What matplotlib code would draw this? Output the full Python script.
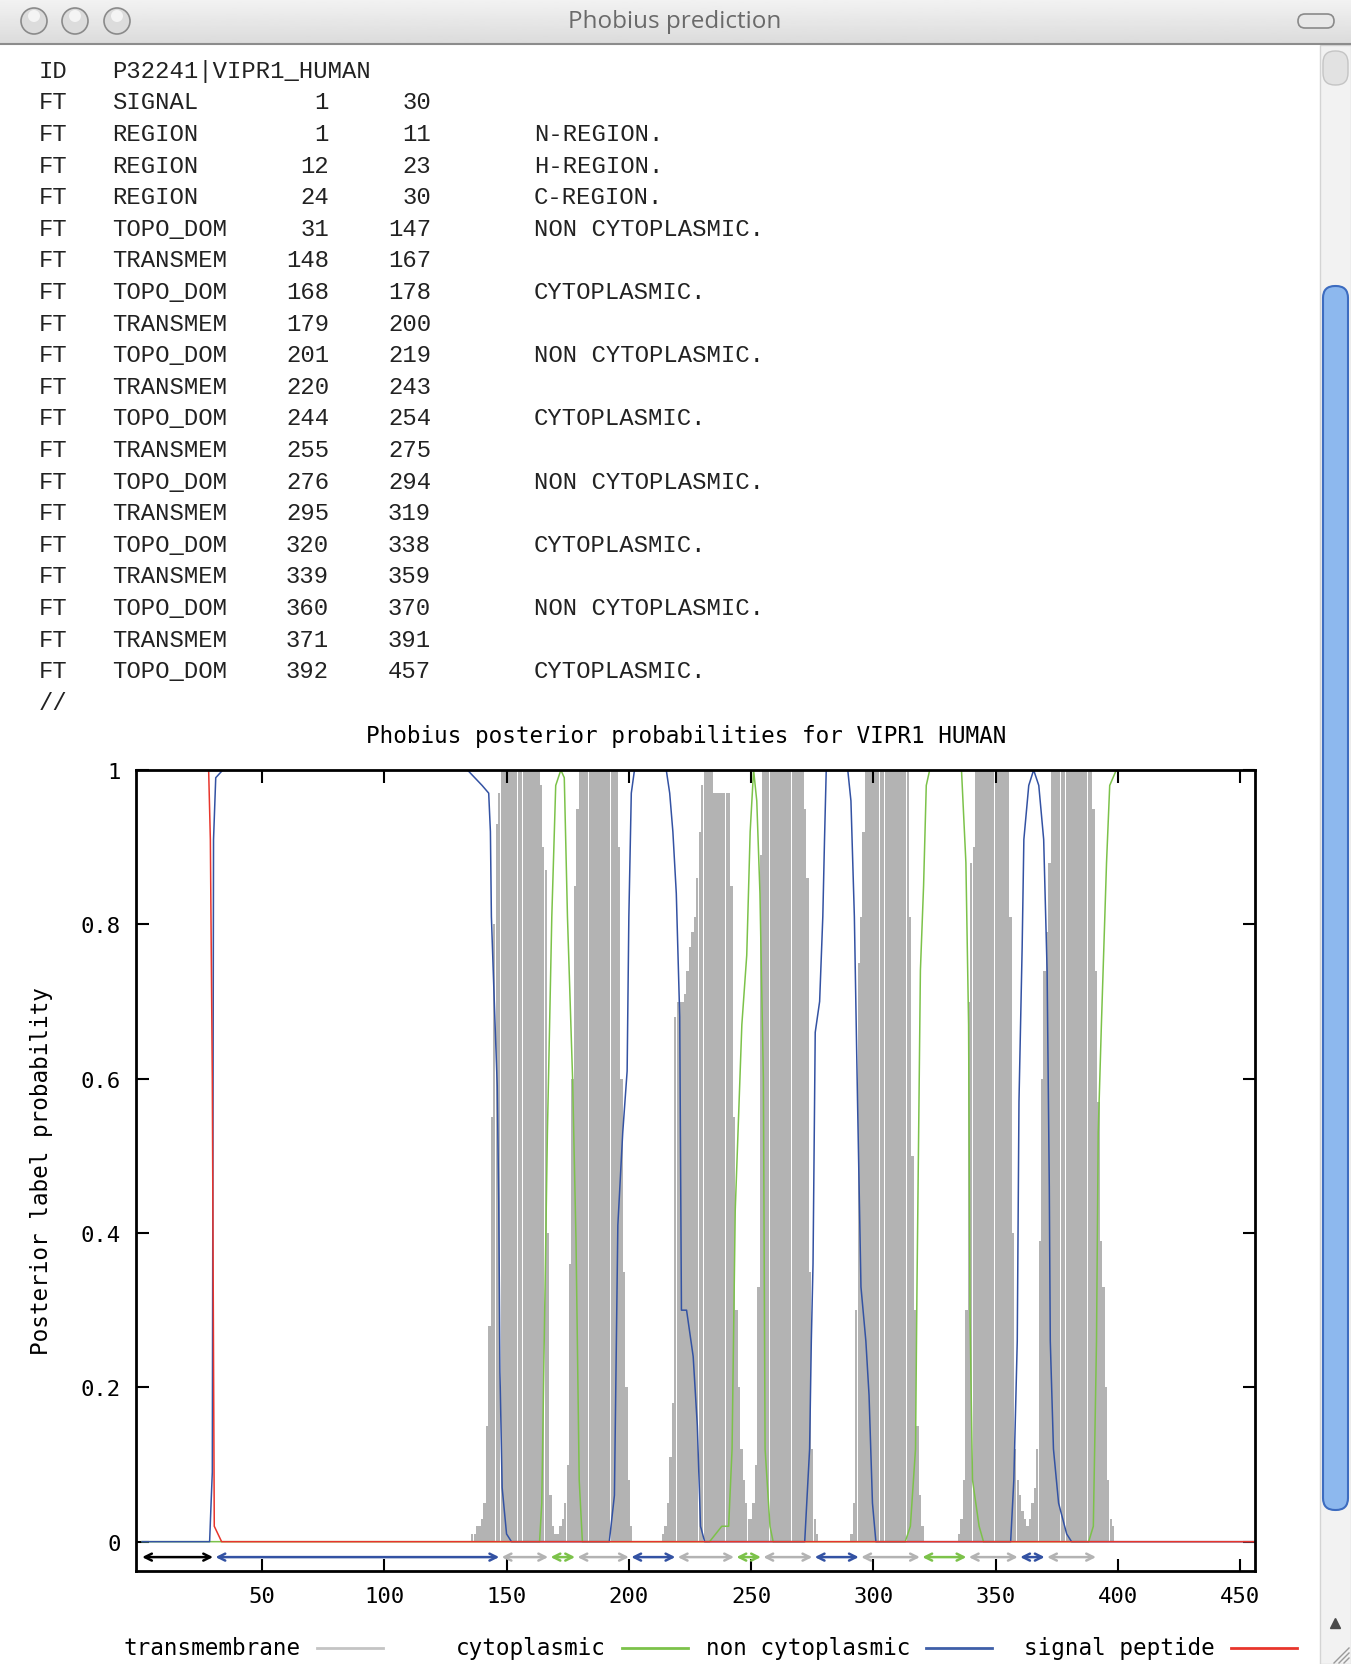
import numpy as np
import matplotlib.pyplot as plt
from matplotlib.patches import Rectangle, FancyBboxPatch, Circle

# ---- Phobius feature table ----
protein_id = "P32241|VIPR1_HUMAN"
ft_keys = ["SIGNAL", "REGION", "REGION", "REGION", "TOPO_DOM", "TRANSMEM",
           "TOPO_DOM", "TRANSMEM", "TOPO_DOM", "TRANSMEM", "TOPO_DOM",
           "TRANSMEM", "TOPO_DOM", "TRANSMEM", "TOPO_DOM", "TRANSMEM",
           "TOPO_DOM", "TRANSMEM", "TOPO_DOM"]
ft_start = [1, 1, 12, 24, 31, 148, 168, 179, 201, 220, 244, 255, 276, 295,
            320, 339, 360, 371, 392]
ft_end = [30, 11, 23, 30, 147, 167, 178, 200, 219, 243, 254, 275, 294, 319,
          338, 359, 370, 391, 457]
ft_desc = ["", "N-REGION.", "H-REGION.", "C-REGION.", "NON CYTOPLASMIC.", "",
           "CYTOPLASMIC.", "", "NON CYTOPLASMIC.", "", "CYTOPLASMIC.", "",
           "NON CYTOPLASMIC.", "", "CYTOPLASMIC.", "", "NON CYTOPLASMIC.", "",
           "CYTOPLASMIC."]
seq_len = 457

# ---- posterior probabilities ----
# transmembrane: (first residue, per-residue values), zero elsewhere
tm_blocks = [
    (136, [0.01, 0.01, 0.02, 0.02, 0.03, 0.05, 0.15, 0.28, 0.55, 0.80, 0.93, 0.97]
          + [1.0] * 16 + [0.98, 0.90, 0.87, 0.40, 0.06, 0.02, 0.01]),
    (171, [0.01, 0.02, 0.03, 0.05, 0.10, 0.36, 0.60, 0.85, 0.95]
          + [1.0] * 16 + [0.90, 0.60, 0.35, 0.20, 0.08, 0.02]),
    (214, [0.01, 0.02, 0.05, 0.11, 0.18, 0.68, 0.70, 0.70, 0.70, 0.71, 0.74,
           0.77, 0.79, 0.81, 0.86, 0.92, 0.98] + [1.0] * 4 + [0.97] * 7
          + [0.85, 0.55, 0.30, 0.20, 0.12, 0.08, 0.05, 0.03, 0.03, 0.05, 0.10,
             0.33, 0.89] + [1.0] * 17 + [0.95, 0.86, 0.35, 0.12, 0.03, 0.01]),
    (291, [0.01, 0.05, 0.30, 0.75, 0.81, 0.92] + [1.0] * 18
          + [0.81, 0.50, 0.30, 0.15, 0.06, 0.02]),
    (335, [0.01, 0.03, 0.08, 0.30, 0.70, 0.88, 0.90] + [1.0] * 14
          + [0.81, 0.40, 0.12, 0.08, 0.06, 0.04, 0.03, 0.02, 0.03, 0.05, 0.07,
             0.12, 0.39, 0.60, 0.74, 0.79, 0.88] + [1.0] * 17
          + [0.95, 0.74, 0.57, 0.39, 0.33, 0.20, 0.08, 0.03, 0.02]),
]

cyto_x = [1, 163.5, 164.4, 166.7, 168.5, 170.1, 172.2, 173.6, 174.9, 177, 178.4,
          179.7, 181, 233, 238, 240.8, 242.2, 243.5, 246.2, 248.2, 249.6, 251,
          252.3, 253.6, 255, 255.7, 257.7, 259, 313, 315.1, 317.2, 317.8, 319.2,
          320.5, 321.6, 323, 336, 337.8, 338.9, 339.5, 340.5, 343.2, 345, 388,
          389.9, 391.2, 391.9, 393.2, 394.6, 395.3, 396.6, 399.3, 457]
cyto_y = [0, 0, 0.05, 0.53, 0.81, 0.98, 1.0, 0.99, 0.81, 0.60, 0.39,
          0.08, 0, 0, 0.02, 0.02, 0.12, 0.43, 0.67, 0.76, 0.92, 1.0,
          0.96, 0.84, 0.60, 0.12, 0.02, 0, 0, 0.02, 0.12, 0.33, 0.74,
          0.85, 0.98, 1.0, 1.0, 0.88, 0.67, 0.29, 0.08, 0.02, 0, 0,
          0.02, 0.26, 0.53, 0.67, 0.81, 0.88, 0.98, 1.0, 1.0]

noncyto_x = [1, 28.6, 29.2, 29.7, 30.2, 31.1, 34, 134, 140, 142.7, 143.4, 143.8,
             145.2, 146.2, 146.8, 147.3, 148.2, 150, 152, 192, 194.1, 195.5,
             197.5, 199.3, 200, 201, 202.3, 215.3, 216.7, 218, 219.4, 220.8,
             221.5, 223.6, 226.3, 228, 229.3, 231, 271.9, 273.9, 274.6, 275.3,
             276.2, 278, 279.3, 280, 280.7, 289.5, 290.8, 292.2, 293.5, 294.9,
             296.9, 298.2, 299.6, 301, 356.1, 357.4, 358.8, 359.5, 360.8, 361.5,
             363.5, 365.5, 367.6, 369.6, 371, 371.9, 372.3, 373.6, 375.7, 379,
             381, 457]
noncyto_y = [0, 0, 0.05, 0.09, 0.91, 0.99, 1.0, 1.0, 0.98, 0.97, 0.92, 0.81,
             0.68, 0.59, 0.44, 0.22, 0.07, 0.01, 0, 0, 0.06, 0.41,
             0.53, 0.61, 0.81, 0.97, 1.0, 1.0, 0.97, 0.92, 0.84, 0.68,
             0.30, 0.30, 0.24, 0.15, 0.02, 0, 0, 0.12, 0.26, 0.36,
             0.66, 0.70, 0.81, 0.91, 1.0, 1.0, 0.96, 0.81, 0.57, 0.33,
             0.26, 0.19, 0.05, 0, 0, 0.08, 0.26, 0.57, 0.77, 0.91,
             0.98, 1.0, 0.98, 0.91, 0.74, 0.46, 0.26, 0.12, 0.05, 0.01,
             0, 0]

signal_x = [1, 28.2, 28.9, 29.7, 30.5, 33.5, 457]
signal_y = [1.0, 1.0, 0.91, 0.60, 0.02, 0, 0]

legend_labels = ["transmembrane", "cytoplasmic", "non cytoplasmic", "signal peptide"]

C_TM = "#b3b3b3"
C_CYT = "#7cc24a"
C_NON = "#3352a3"
C_SIG = "#e8352c"
legend_colors = ["#c4c4c4", C_CYT, "#3f5fa8", C_SIG]

residues = np.arange(1, seq_len + 1)
tm_prob = np.zeros(seq_len)
for start, vals in tm_blocks:
    tm_prob[start - 1:start - 1 + len(vals)] = vals

W, H = 1351, 1665
fig = plt.figure(figsize=(W / 100, H / 100), dpi=100)
fig.patch.set_facecolor("white")

# ---- window chrome + text output, drawn in pixel coordinates ----
bg = fig.add_axes([0, 0, 1, 1], zorder=0)
bg.axis("off")
grad = np.linspace(0.95, 0.86, 50)[:, None]
bg.imshow(grad, extent=[0, W, 45, 0], cmap="gray", vmin=0, vmax=1, aspect="auto")
bg.plot([0, W], [45, 45], color="#8c8c8c", lw=1.5)
for cx in [34, 75, 117]:
    bg.add_patch(Circle((cx, 22), 13, fc="#dcdcdc", ec="#8a8a8a", lw=1.2))
    bg.add_patch(Circle((cx, 17), 6, fc="#f4f4f4", ec="none"))
bg.add_patch(FancyBboxPatch((1298, 15), 36, 14, boxstyle="round,pad=0,rounding_size=7",
                            fc="#e8e8e8", ec="#8a8a8a", lw=1.2))
bg.text(675, 22, "Phobius prediction", ha="center", va="center",
        fontsize=17.5, color="#6a6a6a", family="Open Sans")

# scroll bar
bg.add_patch(Rectangle((1320, 46), 31, 1619, fc="#f2f2f2", ec="#d4d4d4", lw=1))
bg.add_patch(FancyBboxPatch((1323, 52), 25, 34, boxstyle="round,pad=0,rounding_size=12",
                            fc="#e2e2e2", ec="#c4c4c4", lw=1))
thumb = FancyBboxPatch((1323, 287), 25, 1224, boxstyle="round,pad=0,rounding_size=12",
                       fc="#8db8ee", ec="#3d6cc0", lw=1.5)
bg.add_patch(thumb)
tg = bg.imshow(np.array([[0.55, 0.8, 0.95, 0.8, 0.6]]), extent=[1323, 1348, 1511, 287],
               cmap="Blues_r", vmin=0, vmax=1.6, aspect="auto")
tg.set_clip_path(thumb)
bg.plot([1335], [1624], marker="^", color="#4a4a4a", ms=7)
for k in range(3):
    bg.plot([1334 + 5 * k, 1349], [1664, 1649 + 5 * k], color="#9a9a9a", lw=1)

# feature table
row_y0, row_dy = 71.3, 31.6
tfont = dict(family="Liberation Mono", fontsize=17.2, color="#222222", va="center")
bg.text(39, row_y0, "ID", **tfont)
bg.text(112, row_y0, protein_id, **tfont)
for i, (key, s, e, d) in enumerate(zip(ft_keys, ft_start, ft_end, ft_desc)):
    yy = row_y0 + row_dy * (i + 1)
    bg.text(39, yy, "FT", **tfont)
    bg.text(112, yy, key, **tfont)
    bg.text(329, yy, str(s), ha="right", **tfont)
    bg.text(431, yy, str(e), ha="right", **tfont)
    if d:
        bg.text(534, yy, d, **tfont)
bg.text(39, row_y0 + row_dy * (len(ft_keys) + 1), "//", **tfont)

# legend along the bottom
pfont = dict(family="DejaVu Sans Mono", fontsize=16.3, color="black")
leg_end = [301, 606, 910, 1215]
for lab, col, xe in zip(legend_labels, legend_colors, leg_end):
    bg.text(xe, 1649, lab, ha="right", va="center", **pfont)
    bg.plot([xe + 16, xe + 82], [1649, 1649], color=col, lw=2)

bg.set_xlim(0, W)
bg.set_ylim(H, 0)

# ---- posterior probability plot ----
ax = fig.add_axes([136 / W, (H - 1572) / H, 1119 / W, 801 / H], zorder=1)
ax.bar(residues, tm_prob, width=0.95, color=C_TM, linewidth=0, antialiased=False)
ax.plot(cyto_x, cyto_y, color=C_CYT, lw=1.1)
ax.plot(noncyto_x, noncyto_y, color=C_NON, lw=1.1)
ax.plot(signal_x, signal_y, color=C_SIG, lw=1.1)

# predicted topology line below zero
topo_y = -0.02
for key, s, e, d in zip(ft_keys, ft_start, ft_end, ft_desc):
    if key == "REGION":
        continue
    if key == "SIGNAL":
        col = "black"
    elif key == "TRANSMEM":
        col = C_TM
    elif d.startswith("NON"):
        col = C_NON
    else:
        col = C_CYT
    ax.annotate("", xy=(e, topo_y), xytext=(s, topo_y),
                arrowprops=dict(arrowstyle="<->,head_length=0.5,head_width=0.25",
                                color=col, lw=1.8, shrinkA=0, shrinkB=0))

ax.set_xlim(-1.5, 456)
ax.set_ylim(-0.038, 1.0)
ax.set_xticks([50, 100, 150, 200, 250, 300, 350, 400, 450])
ax.set_yticks([0, 0.2, 0.4, 0.6, 0.8, 1.0])
ax.set_yticklabels(["0", "0.2", "0.4", "0.6", "0.8", "1"])
ax.tick_params(direction="in", length=9, width=1.5, top=True, right=True,
               labelsize=16, pad=11)
for lab in ax.get_xticklabels() + ax.get_yticklabels():
    lab.set_family("DejaVu Sans Mono")
for sp in ax.spines.values():
    sp.set_linewidth(2)
ax.set_ylabel("Posterior label probability", **pfont)
ax.yaxis.set_label_coords(-0.074, 0.5)
fig.text(686 / W, 1 - 737 / H, "Phobius posterior probabilities for VIPR1 HUMAN",
         ha="center", va="center", **pfont)

plt.savefig("out.png", dpi=100)
